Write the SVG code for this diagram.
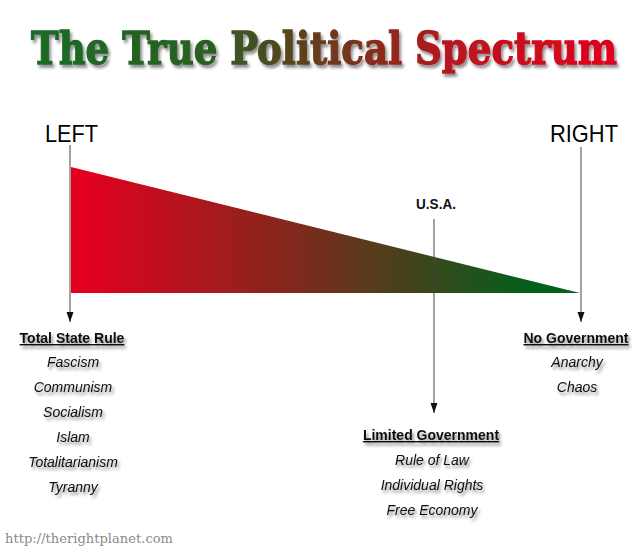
<svg xmlns="http://www.w3.org/2000/svg" width="640" height="552" viewBox="0 0 640 552">
<defs>
<linearGradient id="titleGrad" gradientUnits="userSpaceOnUse" x1="0" y1="0" x2="586" y2="0">
<stop offset="0" stop-color="#1b6b26"/>
<stop offset="0.3" stop-color="#2a5f22"/>
<stop offset="0.5" stop-color="#6a3a1c"/>
<stop offset="0.72" stop-color="#b81620"/>
<stop offset="1" stop-color="#e3001c"/>
</linearGradient>
<linearGradient id="triGrad" gradientUnits="userSpaceOnUse" x1="85" y1="0" x2="530" y2="0">
<stop offset="0" stop-color="#e2001e"/>
<stop offset="0.5" stop-color="#7a2c1c"/>
<stop offset="1" stop-color="#035f1b"/>
</linearGradient>
<filter id="shadow" filterUnits="userSpaceOnUse" x="0" y="0" width="640" height="552">
<feDropShadow dx="2" dy="3" stdDeviation="1.4" flood-color="#000" flood-opacity="0.45"/>
</filter>
<marker id="arrow" markerUnits="userSpaceOnUse" markerWidth="10" markerHeight="8" refX="10" refY="3.5" orient="auto">
<path d="M0,0 L10,3.5 L0,7 z" fill="#111"/>
</marker>
</defs>
<style>
.head{font-family:"Liberation Sans",Arial,sans-serif;font-size:14px;font-weight:bold;fill:#111;text-anchor:middle;text-decoration:underline;}
.item{font-family:"Liberation Sans",Arial,sans-serif;font-size:14px;font-style:italic;fill:#111;text-anchor:middle;}
.axis{font-family:"Liberation Sans",Arial,sans-serif;font-size:24px;fill:#000;}
.conn{stroke:#444;stroke-width:1;fill:none;}
</style>
<rect width="640" height="552" fill="#fff"/>

<g id="title" filter="url(#shadow)">
<text transform="translate(31,64) scale(1,1.3)" x="0" y="0" font-family="DejaVu Serif,serif" font-weight="bold" font-size="34" textLength="586" lengthAdjust="spacingAndGlyphs" fill="url(#titleGrad)" stroke="url(#titleGrad)" stroke-width="1">The True Political Spectrum</text>
</g>

<g id="spectrum">
<polygon points="71,167 580,293 71,293" fill="url(#triGrad)"/>
</g>

<g id="left">
<text class="axis" x="45" y="142" textLength="53" lengthAdjust="spacingAndGlyphs">LEFT</text>
</g>
<g id="right">
<text class="axis" x="550" y="142" textLength="68" lengthAdjust="spacingAndGlyphs">RIGHT</text>
</g>
<g id="usa">
<text x="436" y="209" font-family="Liberation Sans,Arial,sans-serif" font-weight="bold" font-size="14" text-anchor="middle" textLength="40" lengthAdjust="spacingAndGlyphs" fill="#111">U.S.A.</text>
</g>

<g id="connectors">
<line class="conn" x1="70" y1="145" x2="70" y2="322" marker-end="url(#arrow)"/>
<line class="conn" x1="581" y1="147" x2="581" y2="322" marker-end="url(#arrow)"/>
<line class="conn" x1="434" y1="219" x2="434" y2="413" marker-end="url(#arrow)"/>
</g>

<g id="total-state-rule" filter="url(#shadow)">
<text class="head" x="72" y="343">Total State Rule</text>
<text class="item" x="73" y="367">Fascism</text>
<text class="item" x="73" y="392">Communism</text>
<text class="item" x="73" y="417">Socialism</text>
<text class="item" x="73" y="442">Islam</text>
<text class="item" x="73" y="467">Totalitarianism</text>
<text class="item" x="73" y="492">Tyranny</text>
</g>

<g id="no-government" filter="url(#shadow)">
<text class="head" x="576" y="343">No Government</text>
<text class="item" x="577" y="367">Anarchy</text>
<text class="item" x="577" y="392">Chaos</text>
</g>

<g id="limited-government" filter="url(#shadow)">
<text class="head" x="431" y="440">Limited Government</text>
<text class="item" x="432" y="465">Rule of Law</text>
<text class="item" x="432" y="490">Individual Rights</text>
<text class="item" x="432" y="515">Free Economy</text>
</g>

<g id="url">
<text x="5" y="543" font-family="DejaVu Serif,serif" font-size="13" fill="#8a8a8a" textLength="168" lengthAdjust="spacingAndGlyphs">http://therightplanet.com</text>
</g>
</svg>
